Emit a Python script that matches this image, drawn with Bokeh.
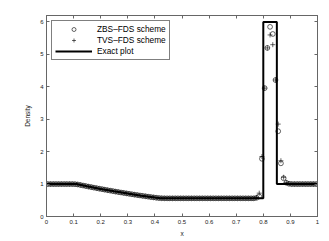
from bokeh.plotting import figure
from bokeh.models import Range1d, FixedTicker, LinearAxis, Legend, LegendItem, CustomLabelingPolicy
from bokeh.embed import file_html
from bokeh.resources import INLINE

# grid points of the numerical solutions
x_num = [0.005, 0.015, 0.025, 0.035, 0.045, 0.055, 0.065, 0.075, 0.085, 0.095,
         0.105, 0.115, 0.125, 0.135, 0.145, 0.155, 0.165, 0.175, 0.185, 0.195,
         0.205, 0.215, 0.225, 0.235, 0.245, 0.255, 0.265, 0.275, 0.285, 0.295,
         0.305, 0.315, 0.325, 0.335, 0.345, 0.355, 0.365, 0.375, 0.385, 0.395,
         0.405, 0.415, 0.425, 0.435, 0.445, 0.455, 0.465, 0.475, 0.485, 0.495,
         0.505, 0.515, 0.525, 0.535, 0.545, 0.555, 0.565, 0.575, 0.585, 0.595,
         0.605, 0.615, 0.625, 0.635, 0.645, 0.655, 0.665, 0.675, 0.685, 0.695,
         0.705, 0.715, 0.725, 0.735, 0.745, 0.755, 0.765, 0.775, 0.785, 0.795,
         0.805, 0.815, 0.825, 0.835, 0.845, 0.855, 0.865, 0.875, 0.885, 0.895,
         0.905, 0.915, 0.925, 0.935, 0.945, 0.955, 0.965, 0.975, 0.985, 0.995]

zbs_rho = [1.0, 1.0, 1.0, 1.0, 1.0, 1.0, 1.0, 1.0, 1.0, 1.0,
           0.997, 0.988, 0.972, 0.955, 0.939, 0.922, 0.906, 0.890, 0.874, 0.858,
           0.843, 0.828, 0.812, 0.798, 0.783, 0.768, 0.754, 0.740, 0.727, 0.713,
           0.700, 0.686, 0.673, 0.661, 0.648, 0.636, 0.624, 0.612, 0.600, 0.589,
           0.578, 0.569, 0.563, 0.561, 0.56, 0.56, 0.56, 0.56, 0.56, 0.56,
           0.56, 0.56, 0.56, 0.56, 0.56, 0.56, 0.56, 0.56, 0.56, 0.56,
           0.56, 0.56, 0.56, 0.56, 0.56, 0.56, 0.56, 0.56, 0.56, 0.56,
           0.56, 0.56, 0.56, 0.56, 0.56, 0.56, 0.56, 0.575, 0.62, 1.78,
           3.96, 5.2, 5.85, 5.63, 4.21, 2.63, 1.64, 1.18, 1.04, 1.01,
           1.0, 1.0, 1.0, 1.0, 1.0, 1.0, 1.0, 1.0, 1.0, 1.0]

tvs_rho = [1.0, 1.0, 1.0, 1.0, 1.0, 1.0, 1.0, 1.0, 1.0, 1.0,
           0.997, 0.988, 0.972, 0.955, 0.939, 0.922, 0.906, 0.890, 0.874, 0.858,
           0.843, 0.828, 0.812, 0.798, 0.783, 0.768, 0.754, 0.740, 0.727, 0.713,
           0.700, 0.686, 0.673, 0.661, 0.648, 0.636, 0.624, 0.612, 0.600, 0.589,
           0.578, 0.569, 0.563, 0.561, 0.56, 0.56, 0.56, 0.56, 0.56, 0.56,
           0.56, 0.56, 0.56, 0.56, 0.56, 0.56, 0.56, 0.56, 0.56, 0.56,
           0.56, 0.56, 0.56, 0.56, 0.56, 0.56, 0.56, 0.56, 0.56, 0.56,
           0.56, 0.56, 0.56, 0.56, 0.56, 0.56, 0.56, 0.59, 0.72, 1.85,
           3.96, 5.2, 5.6, 5.3, 4.21, 2.85, 1.72, 1.21, 1.05, 1.01,
           1.0, 1.0, 1.0, 1.0, 1.0, 1.0, 1.0, 1.0, 1.0, 1.0]

# exact solution
x_exact = [0.0, 0.11, 0.15, 0.2, 0.25, 0.3, 0.35, 0.4, 0.42, 0.8, 0.8, 0.85, 0.85, 1.0]
rho_exact = [1.0, 1.0, 0.931, 0.851, 0.776, 0.707, 0.642, 0.583, 0.56, 0.56, 6.0, 6.0, 1.0, 1.0]

x_ticks = [0, 0.1, 0.2, 0.3, 0.4, 0.5, 0.6, 0.7, 0.8, 0.9, 1]
x_tick_labels = ["0", "0.1", "0.2", "0.3", "0.4", "0.5", "0.6", "0.7", "0.8", "0.9", "1"]
y_ticks = [0, 1, 2, 3, 4, 5, 6]

series_names = ["ZBS\u2013FDS scheme", "TVS\u2013FDS scheme", "Exact plot"]

FONT = "Liberation Sans"
AX = "#666666"

p = figure(width=326, height=239, output_backend="svg", toolbar_location=None,
           x_range=Range1d(0, 1), y_range=Range1d(0, 6.2),
           min_border_left=46, min_border_right=5, min_border_top=15, min_border_bottom=21)
p.background_fill_color = "white"
p.border_fill_color = "white"
p.outline_line_color = AX
p.outline_line_width = 1
p.xgrid.visible = False
p.ygrid.visible = False

r_zbs = p.scatter(x_num, zbs_rho, marker="circle", size=4.8, fill_color=None,
                  line_color="black", line_width=0.6)
r_tvs = p.scatter(x_num, tvs_rho, marker="cross", size=5, line_color="black", line_width=0.6)
r_ex = p.line(x_exact, rho_exact, line_color="black", line_width=2)

for ax in (p.xaxis[0], p.yaxis[0]):
    ax.major_tick_in = 3
    ax.major_tick_out = 0
    ax.minor_tick_line_color = None
    ax.axis_line_color = AX
    ax.major_tick_line_color = AX
    ax.major_label_text_font = FONT
    ax.major_label_text_font_size = "6px"
    ax.major_label_text_color = "#222222"
    ax.axis_label_text_font = FONT
    ax.axis_label_text_font_size = "6.5px"
    ax.axis_label_text_font_style = "normal"
    ax.axis_label_text_color = "#222222"

p.xaxis[0].ticker = FixedTicker(ticks=x_ticks)
p.xaxis[0].major_label_overrides = {t: l for t, l in zip(x_ticks, x_tick_labels)}
p.xaxis[0].axis_label = "x"
p.xaxis[0].major_label_standoff = 3
p.xaxis[0].axis_label_standoff = 3
p.yaxis[0].ticker = FixedTicker(ticks=y_ticks)
p.yaxis[0].axis_label = "Density"
p.yaxis[0].major_label_standoff = 3
p.yaxis[0].axis_label_standoff = 6

no_labels = "const all = [...indices]; for (const i of all) indices.unset(i); return indices"
top = LinearAxis(ticker=FixedTicker(ticks=x_ticks),
                 major_label_policy=CustomLabelingPolicy(code=no_labels),
                 major_tick_in=3, major_tick_out=0, minor_tick_line_color=None,
                 axis_line_color=AX, major_tick_line_color=AX, major_label_standoff=0)
right = LinearAxis(ticker=FixedTicker(ticks=y_ticks),
                   major_label_policy=CustomLabelingPolicy(code=no_labels),
                   major_tick_in=3, major_tick_out=0, minor_tick_line_color=None,
                   axis_line_color=AX, major_tick_line_color=AX, major_label_standoff=0)
p.add_layout(top, "above")
p.add_layout(right, "right")

legend = Legend(items=[LegendItem(label=series_names[0], renderers=[r_zbs]),
                       LegendItem(label=series_names[1], renderers=[r_tvs]),
                       LegendItem(label=series_names[2], renderers=[r_ex])],
                location="top_left", margin=5, padding=3, spacing=1,
                glyph_width=37, glyph_height=10, label_height=10, label_standoff=5,
                label_text_font=FONT, label_text_font_size="8.3px",
                label_text_color="black",
                border_line_color="black", border_line_width=1,
                background_fill_alpha=1.0)
p.add_layout(legend)

open("out.html", "w").write(file_html(p, INLINE))
